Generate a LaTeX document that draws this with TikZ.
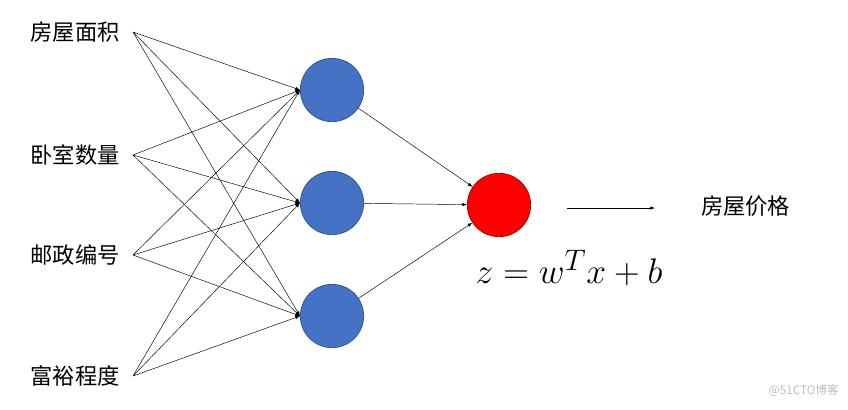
\documentclass[tikz,border=0pt]{standalone}
\usepackage{fontspec}
\newfontfamily\cjk{Noto Sans CJK SC}
\usetikzlibrary{arrows,positioning,calc}
\definecolor{hidblue}{HTML}{4472C4}
\definecolor{hidedge}{HTML}{2F528F}
\begin{document}
\begin{tikzpicture}[
        x=0.03cm, y=-0.03cm,
        neuron/.style={circle, draw=hidedge, fill=hidblue, minimum size=1.9cm, inner sep=0pt, line width=0.6pt},
        outneuron/.style={neuron, draw=red!60!black, fill=red},
        feature/.style={font=\cjk\fontsize{19}{22}\selectfont, anchor=east, inner sep=0pt, outer xsep=0.4cm},
        arrow/.style={draw, -latex, line width=0.4pt}
    ]
    \useasboundingbox (0,0) rectangle (848,409);

    % Input features
    \node [feature] (area) at (133,32) {房屋面积};
    \node [feature] (room) at (133,155) {卧室数量};
    \node [feature] (zip) at (133,255) {邮政编号};
    \node [feature] (rich) at (133,376) {富裕程度};

    % Hidden layer
    \node [neuron] (h1) at (332,90) {};
    \node [neuron] (h2) at (332,203) {};
    \node [neuron] (h3) at (332,316) {};

    % Output neuron
    \node [outneuron] (out) at (499,205) {};
    \node [font=\fontsize{29}{34}\selectfont, scale=1.22, transform shape] (formula) at (569,268) {$z=w^{T}x+b$};

    % Prediction
    \coordinate (pstart) at (567,208);
    \node [font=\cjk\fontsize{19}{22}\selectfont, anchor=west] (price) at (697,206) {房屋价格};
    \path [arrow] (pstart) -- (655,208);

    % Input to hidden arrows
    \foreach \i in {area,room,zip,rich}
      \foreach \h in {h1,h2,h3}
        \path [arrow] (\i.east) -- (\h.west);

    % Hidden to output arrows
    \foreach \h in {h1,h2,h3}
      \path [arrow] (\h) -- (out);

    % Watermark
    \node [font=\cjk\fontsize{10}{12}\selectfont, text=gray!50, anchor=east] (mark) at (843,391) {@51CTO博客};
\end{tikzpicture}
\end{document}
